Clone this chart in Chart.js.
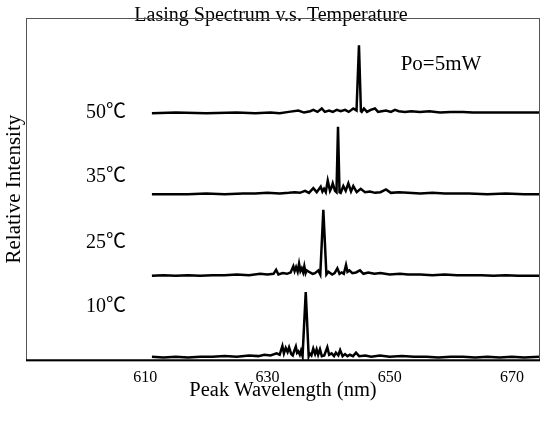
<!DOCTYPE html>
<html>
<head>
<meta charset="utf-8">
<script src="https://cdn.jsdelivr.net/npm/chart.js@4.4.0/dist/chart.umd.min.js"></script>
<style>
  html, body { margin: 0; padding: 0; background: #fff; }
  #wrap { width: 552px; height: 421px; }
</style>
</head>
<body>
<div id="wrap"><canvas id="chart"></canvas></div>
<script>
// Wavelength tick labels (nm)
const xTicks = [610, 630, 650, 670];

// Temperature labels and vertical offset of each spectrum
const temps = ["10℃", "25℃", "35℃", "50℃"];
const offsets = [0, 1.2, 2.4, 3.6];

// Spectrum at 10℃ : wavelength (nm) / relative intensity
const wl10 = [611.1, 613, 615, 617, 619, 621, 623, 625, 627, 628.5, 629.5, 630.5, 631.5, 632.0, 632.45, 632.7, 633.0, 633.3, 633.55, 633.9, 634.15, 634.4, 634.65, 634.85, 635.05, 635.3, 635.5, 635.75, 636.27, 636.75, 636.9, 637.2, 637.5, 637.8, 638.05, 638.3, 638.6, 638.9, 639.3, 639.8, 640.1, 640.5, 640.9, 641.2, 641.6, 641.9, 642.3, 642.7, 643.1, 643.5, 644.0, 644.5, 645.0, 646, 647, 648.4, 650, 652, 654, 656, 658, 660, 662, 664, 666, 668, 670, 672, 674.5];
const in10 = [0.02, 0.01, 0.02, 0.01, 0.02, 0.02, 0.03, 0.02, 0.04, 0.03, 0.05, 0.04, 0.07, 0.05, 0.18, 0.07, 0.15, 0.09, 0.16, 0.06, 0.04, 0.11, 0.17, 0.08, 0.10, 0.05, 0.11, 0.03, 0.97, 0.03, 0.07, 0.04, 0.14, 0.06, 0.13, 0.05, 0.13, 0.03, 0.04, 0.16, 0.05, 0.07, 0.03, 0.08, 0.04, 0.12, 0.03, 0.06, 0.03, 0.05, 0.03, 0.08, 0.03, 0.04, 0.02, 0.04, 0.02, 0.03, 0.02, 0.02, 0.01, 0.02, 0.02, 0.01, 0.02, 0.01, 0.02, 0.01, 0.02];

// Spectrum at 25℃
const wl25 = [611.1, 613, 615, 617, 619, 621, 623, 625, 627, 628.8, 630, 631.0, 631.42, 631.8, 632.5, 633.2, 633.8, 634.24, 634.45, 634.69, 634.95, 635.18, 635.4, 635.62, 635.85, 636.04, 636.25, 636.43, 636.97, 637.4, 637.79, 638.33, 638.65, 639.15, 639.65, 639.97, 640.6, 641.0, 641.44, 641.8, 642.16, 642.5, 642.86, 643.1, 643.4, 643.9, 644.5, 645.15, 645.7, 646.5, 647.5, 648.5, 650, 651.7, 653, 655, 657, 659, 661, 663, 665, 667, 669, 671, 674.5];
const in25 = [0.01, 0.02, 0.01, 0.02, 0.01, 0.02, 0.02, 0.03, 0.02, 0.04, 0.03, 0.04, 0.10, 0.03, 0.05, 0.04, 0.06, 0.15, 0.08, 0.14, 0.07, 0.19, 0.08, 0.12, 0.06, 0.15, 0.05, 0.09, 0.06, 0.04, 0.05, 0.09, 0.03, 0.98, 0.03, 0.07, 0.03, 0.05, 0.12, 0.04, 0.06, 0.04, 0.17, 0.07, 0.09, 0.05, 0.06, 0.09, 0.04, 0.06, 0.04, 0.05, 0.03, 0.04, 0.03, 0.03, 0.02, 0.03, 0.02, 0.02, 0.02, 0.01, 0.02, 0.01, 0.01];

// Spectrum at 35℃
const wl35 = [611.1, 614, 617, 620, 623, 626, 628, 630, 632, 633.5, 634.5, 635.3, 636.16, 636.8, 637.51, 638.07, 638.72, 639.0, 639.26, 639.55, 639.87, 640.24, 640.45, 640.69, 641.06, 641.3, 641.55, 641.8, 641.99, 642.42, 642.81, 643.24, 643.68, 644.05, 644.61, 645.26, 645.97, 646.78, 647.6, 648.5, 649.4, 650.2, 651.5, 653, 655, 657, 659, 661, 663, 666, 669, 672, 674.5];
const in35 = [0.01, 0.01, 0.01, 0.02, 0.01, 0.02, 0.02, 0.03, 0.02, 0.03, 0.04, 0.03, 0.06, 0.03, 0.10, 0.04, 0.12, 0.05, 0.09, 0.04, 0.21, 0.06, 0.10, 0.17, 0.06, 0.04, 1.00, 0.04, 0.03, 0.13, 0.06, 0.17, 0.05, 0.13, 0.04, 0.09, 0.04, 0.05, 0.03, 0.04, 0.08, 0.03, 0.04, 0.03, 0.02, 0.03, 0.02, 0.02, 0.02, 0.01, 0.02, 0.01, 0.01];

// Spectrum at 50℃
const wl50 = [611.1, 615, 620, 625, 628, 630.5, 632, 633.5, 635.06, 636, 637.0, 637.51, 638.2, 638.89, 639.4, 640.08, 640.7, 641.34, 642.0, 642.7, 643.3, 644.05, 644.58, 644.98, 645.3, 645.43, 645.8, 646.29, 646.9, 647.6, 648.1, 648.7, 649.4, 650.2, 650.87, 651.5, 652.5, 653.5, 654.96, 656.5, 658.23, 660, 662, 663.6, 667, 670, 674.5];
const in50 = [0.00, 0.01, 0.00, 0.01, 0.00, 0.01, 0.00, 0.02, 0.04, 0.01, 0.03, 0.05, 0.02, 0.07, 0.02, 0.04, 0.02, 0.05, 0.03, 0.05, 0.02, 0.07, 0.04, 1.00, 0.03, 0.02, 0.07, 0.02, 0.05, 0.07, 0.02, 0.03, 0.04, 0.02, 0.05, 0.03, 0.02, 0.03, 0.02, 0.03, 0.01, 0.02, 0.02, 0.01, 0.01, 0.01, 0.01];

const wls = [wl10, wl25, wl35, wl50];
const ins = [in10, in25, in35, in50];

const serif = "'Liberation Serif', 'Noto Sans CJK JP', serif";

// cadre + textes libres (températures, puissance)
const notesPlugin = {
  id: "notes",
  afterDatasetsDraw(chart) {
    const { ctx, chartArea: a, scales: { x, y } } = chart;
    ctx.save();
    // cadre du graphique
    ctx.strokeStyle = "#555";
    ctx.lineWidth = 1;
    ctx.strokeRect(a.left + 0.5, a.top + 0.5, a.right - a.left - 1, a.bottom - a.top);
    ctx.strokeStyle = "#000";
    ctx.lineWidth = 2;
    ctx.beginPath();
    ctx.moveTo(a.left, a.bottom);
    ctx.lineTo(a.right, a.bottom);
    ctx.stroke();

    ctx.fillStyle = "#000";
    ctx.textAlign = "center";
    ctx.textBaseline = "middle";
    ctx.font = "20px " + serif;
    const labelY = [0.75, 1.69, 2.66, 3.60];
    temps.forEach((t, i) => {
      ctx.fillText(t, x.getPixelForValue(603.6), y.getPixelForValue(labelY[i]));
    });
    ctx.font = "21px " + serif;
    ctx.fillText("Po=5mW", x.getPixelForValue(658.4), y.getPixelForValue(4.31));
    ctx.restore();
  },
};

new Chart(document.getElementById("chart"), {
  type: "line",
  data: {
    datasets: temps.map((t, i) => ({
      label: t,
      data: wls[i].map((w, k) => ({ x: w, y: offsets[i] + ins[i][k] })),
      borderColor: "#000",
      borderWidth: 2.5,
      pointRadius: 0,
      tension: 0,
      fill: false,
    })),
  },
  options: {
    responsive: true,
    maintainAspectRatio: false,
    animation: false,
    layout: { padding: { left: 2, right: 12, top: 0, bottom: 18 } },
    plugins: {
      legend: { display: false },
      tooltip: { enabled: false },
      title: {
        display: true,
        text: "Lasing Spectrum v.s. Temperature",
        color: "#000",
        font: { family: serif, size: 20, weight: "normal" },
        padding: { top: 4, bottom: -10 },
      },
    },
    scales: {
      x: {
        type: "linear",
        min: 590.5,
        max: 674.6,
        afterBuildTicks: (s) => { s.ticks = xTicks.map((v) => ({ value: v })); },
        grid: { display: false, drawTicks: false },
        border: { display: false },
        ticks: { color: "#000", font: { family: serif, size: 16 }, padding: 8, maxRotation: 0 },
        title: {
          display: true,
          text: "Peak Wavelength (nm)",
          color: "#000",
          font: { family: serif, size: 20.5 },
          padding: { top: -17, bottom: 0 },
        },
      },
      y: {
        min: -0.03,
        max: 5.0,
        grid: { display: false, drawTicks: false },
        border: { display: false },
        ticks: { display: false },
        afterFit: (s) => { s.width = 24; },
        title: {
          display: true,
          text: "Relative Intensity",
          color: "#000",
          font: { family: serif, size: 21 },
          padding: 0,
        },
      },
    },
  },
  plugins: [notesPlugin],
});
</script>
</body>
</html>
